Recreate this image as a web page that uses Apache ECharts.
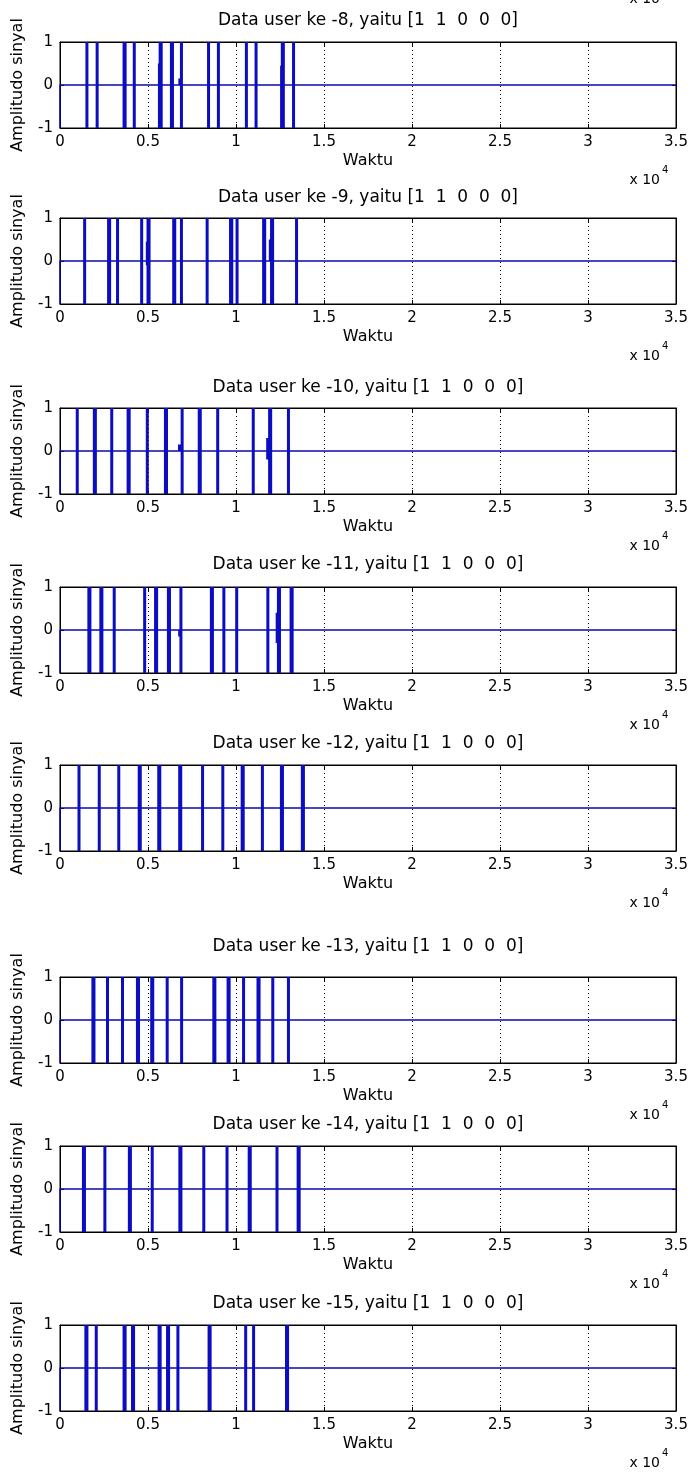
<!DOCTYPE html>
<html><head><meta charset="utf-8">
<script src="https://cdn.jsdelivr.net/npm/echarts@6/dist/echarts.min.js"></script>
<style>html,body{margin:0;padding:0;background:#fff}#c{width:691px;height:1473px}</style>
</head><body><div id="c"></div>
<script>
// ---------------- data ----------------
const userIds = [8, 9, 10, 11, 12, 13, 14, 15];
const bitsLabel = '[1  1  0  0  0]';
const xTickLabels = ['0', '0.5', '1', '1.5', '2', '2.5', '3', '3.5'];
const yTickLabels = ['-1', '0', '1'];
const xMax = 35000;

// positions (samples) of full-amplitude bursts
const user8  = [1530, 2110, 3640, 3700, 4220, 5690, 5750, 6330, 6390, 6900, 8440, 9000, 10590, 11140, 12630, 12690, 13270];
const user9  = [1400, 2760, 2820, 3270, 4640, 5000, 5060, 6460, 6520, 6900, 8360, 9690, 9760, 10060, 11570, 11630, 12020, 12080, 13440];
const user10 = [980, 1950, 2010, 2940, 3870, 3930, 4960, 5990, 6050, 6940, 7910, 7970, 8960, 10980, 11910, 11970, 12980];
const user11 = [1640, 1700, 2320, 2380, 3080, 4810, 5430, 5490, 6160, 6220, 6870, 8600, 8660, 9310, 10040, 11810, 12410, 12470, 13130, 13190];
const user12 = [1080, 2230, 3340, 4500, 4560, 5610, 5670, 6800, 6860, 8100, 9250, 10350, 10410, 11500, 12580, 12640, 13770, 13830];
const user13 = [1870, 1930, 2700, 3550, 4400, 4460, 5210, 5270, 6090, 6910, 8740, 8800, 9550, 9610, 10430, 11250, 11310, 12090, 12980];
const user14 = [1330, 1390, 2550, 3940, 4000, 5240, 6810, 6870, 8170, 9490, 10750, 10810, 12330, 13530, 13590];
const user15 = [1470, 1530, 2060, 3640, 3700, 4120, 4180, 5630, 5690, 6110, 6170, 6700, 8470, 8530, 10550, 11000, 12870, 12930];

// partial strokes: [position, y from, y to]
const user8Part  = [[5650, 0.5, -1], [6810, 0, 0.15], [12590, 0.45, -1]];
const user9Part  = [[4960, 0.45, -0.1], [11950, 0.5, 0]];
const user10Part = [[6790, 0, 0.15], [11800, 0.3, -0.2]];
const user11Part = [[6800, 0, -0.15], [12340, 0.4, -0.3]];
const user12Part = [];
const user13Part = [];
const user14Part = [];
const user15Part = [];

const bursts = [user8, user9, user10, user11, user12, user13, user14, user15];
const partials = [user8Part, user9Part, user10Part, user11Part, user12Part, user13Part, user14Part, user15Part];

// ---------------- layout ----------------
const plotTops = [42, 218, 408, 587, 765, 977, 1146, 1325];
const titleGap = [21, 20, 20, 22, 21, 30, 21, 21];
const plotH = 86, plotL = 60, plotR = 676;
const FONT = 'DejaVu Sans';

const grids = [], xAxes = [], yAxes = [], series = [], graphics = [];

plotTops.forEach((top, i) => {
  grids.push({left: plotL, width: plotR - plotL, top: top, height: plotH,
              show: true, borderColor: '#000', borderWidth: 1, backgroundColor: '#fff'});
  const gi = i;
  xAxes.push({type: 'value', gridIndex: gi, min: 0, max: xMax, interval: 5000,
    axisLine: {show: true, onZero: false, lineStyle: {color: '#000', width: 1}},
    axisTick: {show: true, inside: true, length: 4, lineStyle: {color: '#000'}},
    axisLabel: {margin: 7, color: '#000', fontFamily: FONT, fontSize: 15,
      formatter: v => xTickLabels[Math.round(v / 5000)]},
    splitLine: {show: true, lineStyle: {color: '#000', type: [1, 3], width: 1}}
  });
  xAxes.push({type: 'value', gridIndex: gi, position: 'top', min: 0, max: xMax, interval: 5000,
    axisLine: {show: true, onZero: false, lineStyle: {color: '#000', width: 1}},
    axisTick: {show: true, inside: true, length: 4, lineStyle: {color: '#000'}},
    axisLabel: {show: false}, splitLine: {show: false}
  });
  yAxes.push({type: 'value', gridIndex: gi, min: -1, max: 1, interval: 1,
    axisLine: {show: true, onZero: false, lineStyle: {color: '#000', width: 1}},
    axisTick: {show: true, inside: true, length: 4, lineStyle: {color: '#000'}},
    axisLabel: {margin: 7, color: '#000', fontFamily: FONT, fontSize: 15,
      formatter: v => yTickLabels[Math.round(v) + 1]},
    splitLine: {show: false}
  });
  yAxes.push({type: 'value', gridIndex: gi, position: 'right', min: -1, max: 1, interval: 1,
    axisLine: {show: true, onZero: false, lineStyle: {color: '#000', width: 1}},
    axisTick: {show: true, inside: true, length: 4, lineStyle: {color: '#000'}},
    axisLabel: {show: false}, splitLine: {show: false}
  });

  series.push({type: 'line', xAxisIndex: 2 * gi, yAxisIndex: 2 * gi, showSymbol: false, silent: true,
    lineStyle: {color: '#0a0ab0', width: 1.3}, z: 3,
    data: [[0, -1], [0, 0], [xMax, 0]]});

  const d = [];
  bursts[i].forEach(x => { d.push([x, 1], [x, -1], [x, '-']); });
  partials[i].forEach(p => { d.push([p[0], p[1]], [p[0], p[2]], [p[0], '-']); });
  series.push({type: 'line', xAxisIndex: 2 * gi, yAxisIndex: 2 * gi, showSymbol: false, silent: true,
    connectNulls: false, lineStyle: {color: '#0c0cc0', width: 3}, z: 4, data: d});

  const cx = (plotL + plotR) / 2;
  graphics.push({type: 'text', x: cx, y: top - titleGap[i], z: 10,
    style: {text: 'Data user ke -' + userIds[i] + ', yaitu ' + bitsLabel, font: '17px "' + FONT + '"',
      fill: '#000', textAlign: 'center', textVerticalAlign: 'middle'}});
  graphics.push({type: 'text', x: cx, y: top + plotH + 33, z: 10,
    style: {text: 'Waktu', font: '16px "' + FONT + '"', fill: '#000', textAlign: 'center', textVerticalAlign: 'middle'}});
  graphics.push({type: 'text', x: 18, y: top + plotH / 2, rotation: Math.PI / 2, z: 10,
    style: {text: 'Amplitudo sinyal', font: '16px "' + FONT + '"', fill: '#000', textAlign: 'center', textVerticalAlign: 'middle'}});
  graphics.push({type: 'text', x: 660, y: top + plotH + 52, z: 10,
    style: {text: 'x 10', font: '14px "' + FONT + '"', fill: '#000', textAlign: 'right', textVerticalAlign: 'middle'}});
  graphics.push({type: 'text', x: 662, y: top + plotH + 42, z: 10,
    style: {text: '4', font: '10px "' + FONT + '"', fill: '#000', textAlign: 'left', textVerticalAlign: 'middle'}});
});
graphics.push({type: 'text', x: 660, y: -1, z: 10,
  style: {text: 'x 10', font: '14px "' + FONT + '"', fill: '#000', textAlign: 'right', textVerticalAlign: 'middle'}});

const chart = echarts.init(document.getElementById('c'), null, {renderer: 'canvas'});
chart.setOption({
  animation: false,
  backgroundColor: '#fff',
  grid: grids, xAxis: xAxes, yAxis: yAxes, series: series, graphic: graphics
});
</script></body></html>
